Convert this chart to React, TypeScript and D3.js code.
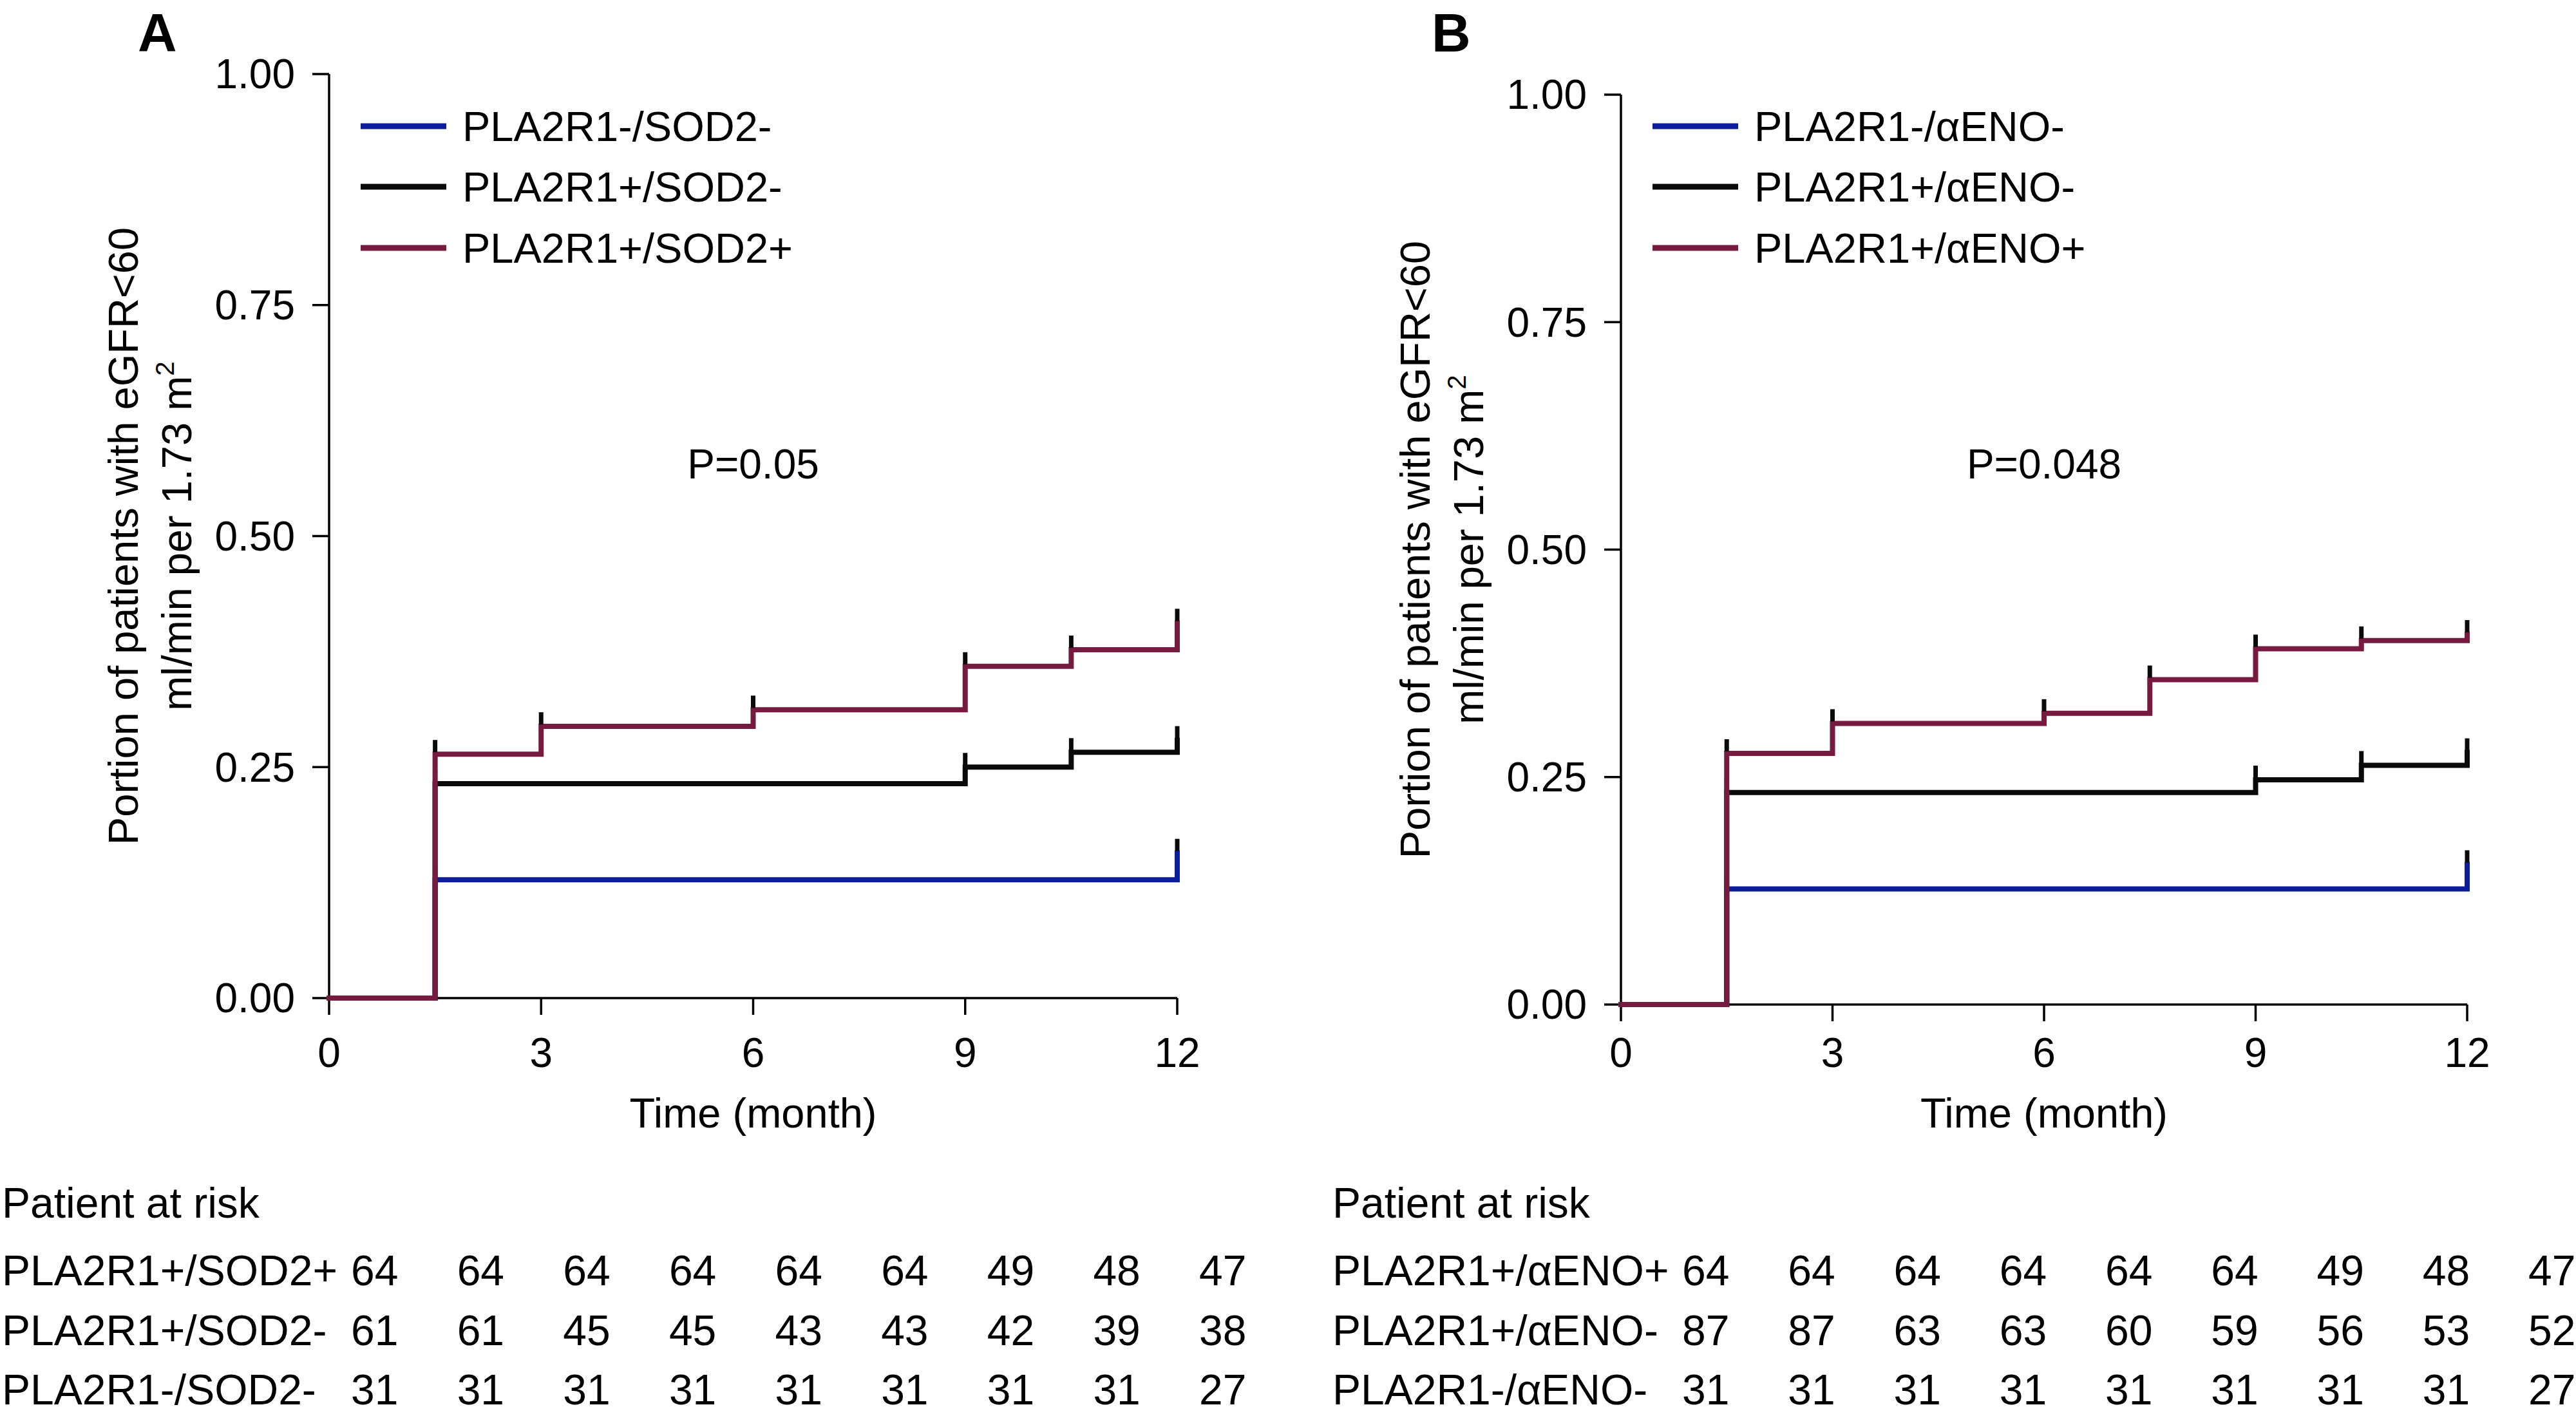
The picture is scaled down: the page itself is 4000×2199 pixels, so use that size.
import React from 'react';
import * as d3 from 'd3';

// ---------- data ----------
const xTickValues = [0, 3, 6, 9, 12];
const yTickValues = [0, 0.25, 0.5, 0.75, 1];
const riskTimes = [0, 1.5, 3, 4.5, 6, 7.5, 9, 10.5, 12];

// Panel A series (step times and cumulative proportions)
const aNames = ['PLA2R1-/SOD2-', 'PLA2R1+/SOD2-', 'PLA2R1+/SOD2+'];
const aNegNegTimes = [0, 1.5, 12];
const aNegNegValues = [0, 0.128, 0.157];
const aPosNegTimes = [0, 1.5, 9, 10.5, 12];
const aPosNegValues = [0, 0.232, 0.25, 0.266, 0.279];
const aPosPosTimes = [0, 1.5, 3, 6, 9, 10.5, 12];
const aPosPosValues = [0, 0.264, 0.294, 0.312, 0.359, 0.377, 0.406];
const aPValue = 'P=0.05';
const aRiskLabels = ['PLA2R1+/SOD2+', 'PLA2R1+/SOD2-', 'PLA2R1-/SOD2-'];
const aRiskPosPos = [64, 64, 64, 64, 64, 64, 49, 48, 47];
const aRiskPosNeg = [61, 61, 45, 45, 43, 43, 42, 39, 38];
const aRiskNegNeg = [31, 31, 31, 31, 31, 31, 31, 31, 27];

// Panel B series
const bNames = ['PLA2R1-/\u03b1ENO-', 'PLA2R1+/\u03b1ENO-', 'PLA2R1+/\u03b1ENO+'];
const bNegNegTimes = [0, 1.5, 12];
const bNegNegValues = [0, 0.127, 0.154];
const bPosNegTimes = [0, 1.5, 9, 10.5, 12];
const bPosNegValues = [0, 0.233, 0.247, 0.263, 0.277];
const bPosPosTimes = [0, 1.5, 3, 6, 7.5, 9, 10.5, 12];
const bPosPosValues = [0, 0.276, 0.309, 0.32, 0.357, 0.391, 0.4, 0.407];
const bPValue = 'P=0.048';
const bRiskLabels = ['PLA2R1+/\u03b1ENO+', 'PLA2R1+/\u03b1ENO-', 'PLA2R1-/\u03b1ENO-'];
const bRiskPosPos = [64, 64, 64, 64, 64, 64, 49, 48, 47];
const bRiskPosNeg = [87, 87, 63, 63, 60, 59, 56, 53, 52];
const bRiskNegNeg = [31, 31, 31, 31, 31, 31, 31, 31, 27];

const yLabel1 = 'Portion of patients with eGFR<60';
const yLabel2 = 'ml/min per 1.73 m';
const xLabel = 'Time (month)';
const riskTitle = 'Patient at risk';

// ---------- styles ----------
const BLUE = '#0b1d9a';
const BLACK = '#0a0a0a';
const MAROON = '#761a3f';
const seriesColors = [BLUE, BLACK, MAROON];
const FONT = '"Liberation Sans", Arial, Helvetica, sans-serif';
const FS = 64;
const FS_LEGEND = 65;
const FS_TABLE = 66;
const FS_TITLE = 65;

type PanelProps = {
  letter: string;
  letterX: number;
  x0: number;
  x1: number;
  yTop: number;
  yBottom: number;
  names: string[];
  times: number[][];
  values: number[][];
  pValue: string;
  riskLabels: string[];
  risk: number[][];
  riskLabelX: number;
  riskColOffset: number;
};

function Panel(p: PanelProps) {
  const x = d3.scaleLinear().domain([0, 12]).range([p.x0, p.x1]);
  const y = d3.scaleLinear().domain([0, 1]).range([p.yBottom, p.yTop]);
  const line = d3
    .line<{ t: number; v: number }>()
    .x((d) => x(d.t))
    .y((d) => y(d.v))
    .curve(d3.curveStepAfter);
  const tickLen = 26;
  const censorLen = 19;
  const midY = (p.yTop + p.yBottom) / 2;
  const midX = (p.x0 + p.x1) / 2;

  return (
    <g fontFamily={FONT} fill="#000">
      <text x={p.letterX} y={80} fontSize={84} fontWeight="bold">
        {p.letter}
      </text>

      {/* y label */}
      <text
        transform={`translate(${p.x0 - 297},${midY}) rotate(-90)`}
        textAnchor="middle"
        fontSize={FS_TITLE}
      >
        {yLabel1}
      </text>
      <text
        transform={`translate(${p.x0 - 214},${midY}) rotate(-90)`}
        textAnchor="middle"
        fontSize={FS_TITLE}
      >
        {yLabel2}
        <tspan fontSize={FS_TITLE * 0.62} dy={-FS_TITLE * 0.42}>
          2
        </tspan>
      </text>

      {/* axes */}
      <line x1={p.x0} x2={p.x0} y1={y(1)} y2={y(0)} stroke="#000" strokeWidth={3.5} />
      <line x1={p.x0} x2={p.x1} y1={y(0)} y2={y(0)} stroke="#000" strokeWidth={3.5} />
      {yTickValues.map((v) => (
        <g key={'y' + v}>
          <line x1={p.x0 - tickLen} x2={p.x0} y1={y(v)} y2={y(v)} stroke="#000" strokeWidth={3.5} />
          <text x={p.x0 - tickLen - 27} y={y(v)} dy="0.35em" textAnchor="end" fontSize={FS}>
            {v.toFixed(2)}
          </text>
        </g>
      ))}
      {xTickValues.map((t) => (
        <g key={'x' + t}>
          <line x1={x(t)} x2={x(t)} y1={y(0)} y2={y(0) + tickLen} stroke="#000" strokeWidth={3.5} />
          <text x={x(t)} y={1657} textAnchor="middle" fontSize={FS}>
            {t}
          </text>
        </g>
      ))}
      <text x={midX} y={1751} textAnchor="middle" fontSize={FS_TITLE}>
        {xLabel}
      </text>

      {/* curves */}
      {p.times.map((ts, i) => {
        const pts = ts.map((t, j) => ({ t, v: p.values[i][j] }));
        return (
          <g key={'s' + i}>
            <path
              d={line(pts) || ''}
              fill="none"
              stroke={seriesColors[i]}
              strokeWidth={8}
              strokeLinejoin="miter"
              strokeLinecap="square"
            />
            {pts
              .filter((d) => d.t > 0)
              .map((d, j) => (
                <line
                  key={j}
                  x1={x(d.t)}
                  x2={x(d.t)}
                  y1={y(d.v) - 3}
                  y2={y(d.v) - 3 - censorLen}
                  stroke={BLACK}
                  strokeWidth={7}
                />
              ))}
          </g>
        );
      })}

      {/* legend */}
      {p.names.map((n, i) => {
        const ly = [196, 290, 385][i];
        return (
          <g key={'l' + i}>
            <line
              x1={p.x0 + 49}
              x2={p.x0 + 182}
              y1={ly}
              y2={ly}
              stroke={seriesColors[i]}
              strokeWidth={9}
            />
            <text x={p.x0 + 207} y={ly} dy="0.36em" fontSize={FS_LEGEND}>
              {n}
            </text>
          </g>
        );
      })}

      <text x={midX} y={743} textAnchor="middle" fontSize={FS}>
        {p.pValue}
      </text>

      {/* risk table */}
      <text x={p.riskLabelX} y={1891} fontSize={FS_TABLE}>
        {riskTitle}
      </text>
      {p.riskLabels.map((lab, r) => {
        const ry = [1996, 2089, 2181][r];
        return (
          <g key={'r' + r}>
            <text x={p.riskLabelX} y={ry} fontSize={FS_TABLE}>
              {lab}
            </text>
            {riskTimes.map((t, c) => (
              <text key={c} x={x(t) + p.riskColOffset} y={ry} fontSize={FS_TABLE}>
                {p.risk[r][c]}
              </text>
            ))}
          </g>
        );
      })}
    </g>
  );
}

export default function App() {
  return (
    <svg
      width={4000}
      height={2199}
      viewBox="0 0 4000 2199"
      style={{ position: 'absolute', left: 0, top: 0, background: '#fff' }}
    >
      <rect x={0} y={0} width={4000} height={2199} fill="#fff" />
      <Panel
        letter="A"
        letterX={214}
        x0={511}
        x1={1828}
        yTop={115}
        yBottom={1550}
        names={aNames}
        times={[aNegNegTimes, aPosNegTimes, aPosPosTimes]}
        values={[aNegNegValues, aPosNegValues, aPosPosValues]}
        pValue={aPValue}
        riskLabels={aRiskLabels}
        risk={[aRiskPosPos, aRiskPosNeg, aRiskNegNeg]}
        riskLabelX={3}
        riskColOffset={34}
      />
      <Panel
        letter="B"
        letterX={2223}
        x0={2517}
        x1={3831}
        yTop={147}
        yBottom={1560}
        names={bNames}
        times={[bNegNegTimes, bPosNegTimes, bPosPosTimes]}
        values={[bNegNegValues, bPosNegValues, bPosPosValues]}
        pValue={bPValue}
        riskLabels={bRiskLabels}
        risk={[bRiskPosPos, bRiskPosNeg, bRiskNegNeg]}
        riskLabelX={2069}
        riskColOffset={95}
      />
    </svg>
  );
}
